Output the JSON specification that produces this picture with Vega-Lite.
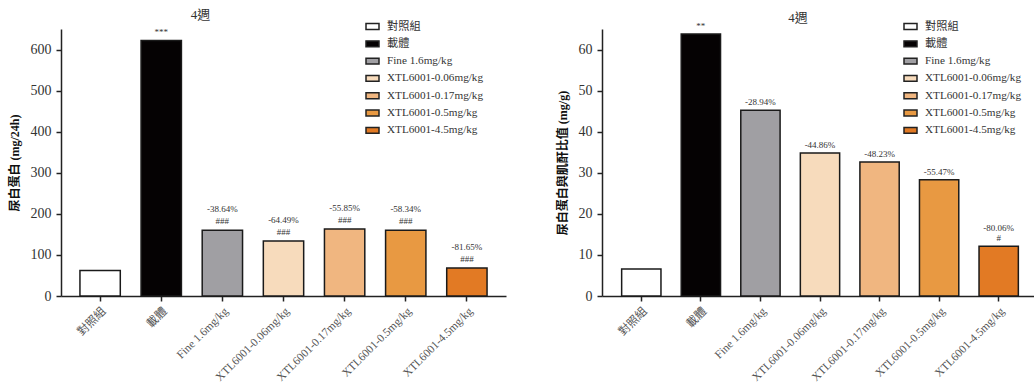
{
  "$schema": "https://vega.github.io/schema/vega-lite/v6.json",
  "padding": {"left": 8, "top": 8, "right": 0, "bottom": 0},
  "config": {
    "view": {"stroke": null},
    "font": "Liberation Serif",
    "axis": {"domainColor": "#222", "domainWidth": 1.5, "tickColor": "#222", "tickWidth": 1.5, "tickSize": 5, "labelFont": "Liberation Serif, Noto Sans CJK TC", "labelColor": "#333", "grid": false},
    "axisY": {"labelFontSize": 14, "titleFont": "Liberation Serif, Noto Sans CJK TC", "titleFontSize": 12, "titleFontWeight": "bold", "titleColor": "#111", "labelPadding": 5, "titlePadding": 9},
    "axisX": {"labelAngle": -45, "labelFontSize": 11.5, "labelColor": "#555", "title": null, "labelPadding": 4},
    "legend": {"labelFont": "Liberation Serif, Noto Sans CJK TC", "labelFontSize": 11.2, "labelColor": "#333", "symbolType": "M-1,-0.45L1,-0.45L1,0.45L-1,0.45Z", "symbolSize": 169, "symbolStrokeColor": "#222", "symbolStrokeWidth": 1.5, "rowPadding": 3.3, "labelOffset": 7, "title": null, "orient": "none"},
    "title": {"font": "Liberation Serif, Noto Sans CJK TC", "fontSize": 13, "fontWeight": "normal", "color": "#333"}
  },
  "spacing": 50,
  "resolve": {"scale": {"fill": "independent"}, "legend": {"fill": "independent"}},
  "hconcat": [
    {
      "width": 445,
      "height": 267,
      "title": {"text": "4週", "dx": -83, "offset": -6},
      "data": {"values": [
        {"group": "對照組", "value": 62, "upper": "", "lower": ""},
        {"group": "載體", "value": 622, "upper": "", "lower": "***"},
        {"group": "Fine 1.6mg/kg", "value": 160, "upper": "-38.64%", "lower": "###"},
        {"group": "XTL6001-0.06mg/kg", "value": 134, "upper": "-64.49%", "lower": "###"},
        {"group": "XTL6001-0.17mg/kg", "value": 163, "upper": "-55.85%", "lower": "###"},
        {"group": "XTL6001-0.5mg/kg", "value": 160, "upper": "-58.34%", "lower": "###"},
        {"group": "XTL6001-4.5mg/kg", "value": 68, "upper": "-81.65%", "lower": "###"}
      ]},
      "encoding": {
        "x": {"field": "group", "type": "nominal", "sort": null, "scale": {"paddingInner": 0.34, "paddingOuter": 0.31}, "axis": {"title": null}},
        "y": {"field": "value", "type": "quantitative", "scale": {"domain": [0, 650], "nice": false}, "axis": {"title": "尿白蛋白 (mg/24h)", "values": [0, 100, 200, 300, 400, 500, 600]}}
      },
      "layer": [
        {
          "mark": {"type": "bar", "stroke": "#1a1a1a", "strokeWidth": 1.5},
          "encoding": {
            "fill": {"field": "group", "type": "nominal", "sort": null,
              "scale": {"domain": ["對照組", "載體", "Fine 1.6mg/kg", "XTL6001-0.06mg/kg", "XTL6001-0.17mg/kg", "XTL6001-0.5mg/kg", "XTL6001-4.5mg/kg"], "range": ["#ffffff", "#050203", "#a09fa3", "#f7dbbc", "#f0b680", "#e89942", "#e27a24"]},
              "legend": {"legendX": 304, "legendY": -10}}
          }
        },
        {
          "mark": {"type": "text", "baseline": "bottom", "dy": -4, "fontSize": 9, "color": "#333"},
          "encoding": {"text": {"field": "lower"}}
        },
        {
          "mark": {"type": "text", "baseline": "bottom", "dy": -16, "fontSize": 9, "color": "#333"},
          "encoding": {"text": {"field": "upper"}}
        }
      ]
    },
    {
      "width": 436,
      "height": 267,
      "title": {"text": "4週", "dx": -22, "offset": -13},
      "data": {"values": [
        {"group": "對照組", "value": 6.6, "upper": "", "lower": ""},
        {"group": "載體", "value": 63.8, "upper": "", "lower": "**"},
        {"group": "Fine 1.6mg/kg", "value": 45.2, "upper": "", "lower": "-28.94%"},
        {"group": "XTL6001-0.06mg/kg", "value": 34.8, "upper": "", "lower": "-44.86%"},
        {"group": "XTL6001-0.17mg/kg", "value": 32.6, "upper": "", "lower": "-48.23%"},
        {"group": "XTL6001-0.5mg/kg", "value": 28.3, "upper": "", "lower": "-55.47%"},
        {"group": "XTL6001-4.5mg/kg", "value": 12.1, "upper": "-80.06%", "lower": "#"}
      ]},
      "encoding": {
        "x": {"field": "group", "type": "nominal", "sort": null, "scale": {"paddingInner": 0.34, "paddingOuter": 0.33}, "axis": {"title": null}},
        "y": {"field": "value", "type": "quantitative", "scale": {"domain": [0, 65], "nice": false}, "axis": {"title": "尿白蛋白與肌酐比值 (mg/g)", "values": [0, 10, 20, 30, 40, 50, 60]}}
      },
      "layer": [
        {
          "mark": {"type": "bar", "stroke": "#1a1a1a", "strokeWidth": 1.5},
          "encoding": {
            "fill": {"field": "group", "type": "nominal", "sort": null,
              "scale": {"domain": ["對照組", "載體", "Fine 1.6mg/kg", "XTL6001-0.06mg/kg", "XTL6001-0.17mg/kg", "XTL6001-0.5mg/kg", "XTL6001-4.5mg/kg"], "range": ["#ffffff", "#050203", "#a09fa3", "#f7dbbc", "#f0b680", "#e89942", "#e27a24"]},
              "legend": {"legendX": 301, "legendY": -10}}
          }
        },
        {
          "mark": {"type": "text", "baseline": "bottom", "dy": -3, "fontSize": 9, "color": "#333"},
          "encoding": {"text": {"field": "lower"}}
        },
        {
          "mark": {"type": "text", "baseline": "bottom", "dy": -13, "fontSize": 9, "color": "#333"},
          "encoding": {"text": {"field": "upper"}}
        }
      ]
    }
  ]
}
